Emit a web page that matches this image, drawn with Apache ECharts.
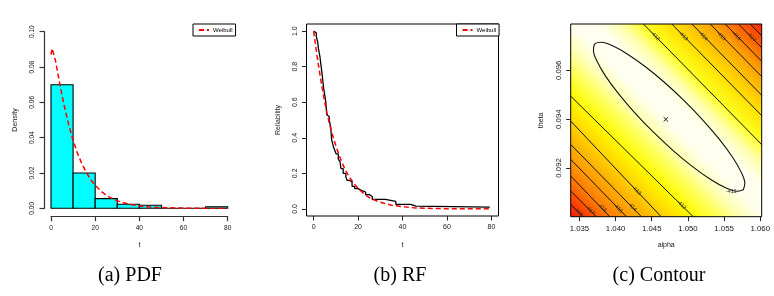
<!DOCTYPE html>
<html><head><meta charset="utf-8">
<script src="https://cdn.jsdelivr.net/npm/echarts@6/dist/echarts.min.js"></script>
<style>html,body{margin:0;padding:0;background:#fff}#c{width:774px;height:296px}</style>
</head><body><div id="c"></div>
<script>
// ---------- (a) PDF: histogram + fitted Weibull density ----------
const binEdges = [0, 10, 20, 30, 40, 50, 60, 70, 80];
const histDensity = [0.07, 0.02, 0.0055, 0.0023, 0.0017, 0, 0, 0.0009];
const pdfT = [0, 0.5, 1, 2, 3, 4, 5, 6, 8, 10, 12, 14, 16, 18, 20, 23, 26, 30, 35, 40, 45, 50, 60, 70, 80];
const pdfV = [0.087, 0.0905, 0.0896, 0.0838, 0.077, 0.0704, 0.064, 0.058, 0.0474, 0.0385, 0.0311, 0.0252, 0.0203, 0.0162, 0.013, 0.0093, 0.0066, 0.0042, 0.0024, 0.0013, 0.0007, 0.0004, 0.0001, 0.00004, 0.00001];
const xTicksA = [0, 20, 40, 60, 80];
const yTicksA = [0, 0.02, 0.04, 0.06, 0.08, 0.10];

// ---------- (b) RF: empirical reliability (step) + Weibull RF ----------
const empT = [0, 0.5, 1.2, 1.8, 2.2, 2.8, 3.4, 3.9, 4.4, 5.0, 5.5, 5.9, 6.5, 7.0, 7.7, 8.1, 8.9, 9.5, 10.1, 11.1, 11.9, 12.3, 13.3, 14.5, 15.1, 16.3, 17.3, 18.5, 20.0, 21.5, 23.4, 25.2, 26.4, 32.3, 37.0, 43.7, 46.0, 79.3];
const empR = [1, 0.99, 0.97, 0.94, 0.9, 0.86, 0.8, 0.75, 0.69, 0.64, 0.6, 0.53, 0.52, 0.5, 0.46, 0.39, 0.35, 0.33, 0.31, 0.28, 0.265, 0.227, 0.2, 0.18, 0.16, 0.15, 0.127, 0.114, 0.104, 0.095, 0.08, 0.07, 0.053, 0.042, 0.025, 0.015, 0.01, 0.01];
const rfT = [0, 1, 2, 3, 4, 5, 6, 7, 8, 10, 12, 14, 16, 18, 20, 23, 26, 30, 35, 40, 45, 50, 60, 70, 80];
const rfV = [1, 0.91, 0.823, 0.744, 0.669, 0.602, 0.541, 0.487, 0.436, 0.355, 0.284, 0.226, 0.18, 0.145, 0.115, 0.081, 0.057, 0.037, 0.021, 0.012, 0.0065, 0.0037, 0.0011, 0.0003, 0.0001];
const xTicksB = [0, 20, 40, 60, 80];
const yTicksB = [0, 0.2, 0.4, 0.6, 0.8, 1.0];

// ---------- (c) Contour of the log-likelihood in (alpha, theta) ----------
const alphaTicks = [1.035, 1.040, 1.045, 1.050, 1.055, 1.060];
const thetaTicks = [0.092, 0.094, 0.096];
const mleAlpha = [1.04695];
const mleTheta = [0.09399];
const ellipseAlpha = [1.057665, 1.056761, 1.055222, 1.053149, 1.050686, 1.047999, 1.045272, 1.042691, 1.04043, 1.038645, 1.037458, 1.036948, 1.037152, 1.038055, 1.039594, 1.041667, 1.04413, 1.046817, 1.049545, 1.052125, 1.054386, 1.056172, 1.057359, 1.057868, 1.057665];
const ellipseTheta = [0.091106, 0.091042, 0.091185, 0.091527, 0.092044, 0.092701, 0.093453, 0.094249, 0.095034, 0.095755, 0.096363, 0.096817, 0.097085, 0.097149, 0.097005, 0.096663, 0.096146, 0.09549, 0.094738, 0.093942, 0.093157, 0.092436, 0.091828, 0.091374, 0.091106];
// lower-left contour segments: [alphaStart, thetaStart, alphaEnd, thetaEnd]
const lowerLeftLines = [
  [1.0338, 0.094943, 1.050729, 0.0900],
  [1.0338, 0.093919, 1.046301, 0.0900],
  [1.0338, 0.092961, 1.043575, 0.0900],
  [1.0338, 0.092347, 1.041499, 0.0900],
  [1.0338, 0.091667, 1.039202, 0.0900],
  [1.0338, 0.091052, 1.037348, 0.0900],
  [1.0338, 0.090504, 1.035508, 0.0900]
];
// upper-right contour segments
const upperRightLines = [
  [1.043852, 0.0979, 1.0602, 0.092957],
  [1.047782, 0.0979, 1.0602, 0.094145],
  [1.050549, 0.0979, 1.0602, 0.09498],
  [1.053082, 0.0979, 1.0602, 0.095746],
  [1.055158, 0.0979, 1.0602, 0.096373],
  [1.056998, 0.0979, 1.0602, 0.09693],
  [1.058617, 0.0979, 1.0602, 0.097417]
];
const contourLevels = ['-412', '-413', '-414', '-415', '-416', '-417', '-418'];
const ellipseLevel = '-411';
const ellipseLabelPos = [1.05599, 0.091024];
const lowerLabelPos = [[1.04911, 0.090491], [1.042883, 0.091081], [1.042288, 0.090409], [1.040351, 0.090348], [1.038137, 0.090368], [1.036476, 0.090266], [1.034816, 0.090213]];
const upperLabelPos = [[1.045471, 0.097413], [1.049345, 0.097413], [1.052113, 0.097413], [1.054604, 0.097413], [1.056679, 0.097413], [1.058797, 0.097372]];

const SANS = '"Liberation Sans", Arial, Helvetica, sans-serif';
const TXT = '#161616';

const chart = echarts.init(document.getElementById('c'), null, {renderer: 'canvas'});

function axisStyle(opts) {
  return Object.assign({
    type: 'value', splitLine: {show: false},
    axisLine: {show: false, onZero: false},
    axisTick: {show: true, length: 4.5, lineStyle: {color: '#222', width: 1}},
    nameLocation: 'middle',
    nameTextStyle: {fontFamily: SANS, fontSize: 7, color: TXT}
  }, opts);
}

const heat = new echarts.graphic.LinearGradient(0, 1, 1, 0, [
  {offset: 0.00, color: '#FF1800'},
  {offset: 0.03, color: '#FF3000'},
  {offset: 0.10, color: '#FF7800'},
  {offset: 0.19, color: '#FFB000'},
  {offset: 0.27, color: '#FFE000'},
  {offset: 0.32, color: '#FFFA00'},
  {offset: 0.38, color: '#FFFF50'},
  {offset: 0.44, color: '#FFFFB0'},
  {offset: 0.50, color: '#FFFFEE'},
  {offset: 0.57, color: '#FFFFF0'},
  {offset: 0.63, color: '#FFFFB0'},
  {offset: 0.69, color: '#FFFF20'},
  {offset: 0.76, color: '#FFE000'},
  {offset: 0.87, color: '#FFA000'},
  {offset: 0.97, color: '#FF4000'},
  {offset: 1.00, color: '#FF2000'}
]);

const series = [];
// (a) histogram
series.push({
  type: 'custom', xAxisIndex: 0, yAxisIndex: 0,
  data: histDensity.map((d, i) => [binEdges[i], binEdges[i + 1], d]),
  encode: {x: [0, 1], y: 2},
  renderItem: function (params, api) {
    const p0 = api.coord([api.value(0), api.value(2)]);
    const p1 = api.coord([api.value(1), 0]);
    return {type: 'rect', shape: {x: p0[0], y: p0[1], width: p1[0] - p0[0], height: p1[1] - p0[1]},
      style: {fill: '#00FFFF', stroke: '#000', lineWidth: 1.1}};
  }, z: 2
});
series.push({
  name: 'Weibull', type: 'line', xAxisIndex: 0, yAxisIndex: 0, showSymbol: false, symbol: 'none',
  data: pdfT.map((t, i) => [t, pdfV[i]]),
  lineStyle: {color: '#FF0000', width: 1.5, type: [5, 3]}, z: 3
});
// (b)
series.push({
  name: 'Empirical', type: 'line', xAxisIndex: 1, yAxisIndex: 1, showSymbol: false, symbol: 'none', step: 'end',
  data: empT.map((t, i) => [t, empR[i]]),
  lineStyle: {color: '#000', width: 1.3}, z: 2
});
series.push({
  name: 'Weibull', type: 'line', xAxisIndex: 1, yAxisIndex: 1, showSymbol: false, symbol: 'none',
  data: rfT.map((t, i) => [t, rfV[i]]),
  lineStyle: {color: '#FF0000', width: 1.5, type: [5, 3]}, z: 3
});
// (c) contours
series.push({
  type: 'line', xAxisIndex: 2, yAxisIndex: 2, showSymbol: false, symbol: 'none', smooth: 0.35, silent: true,
  data: ellipseAlpha.map((a, i) => [a, ellipseTheta[i]]),
  lineStyle: {color: '#111', width: 1.1}
});
lowerLeftLines.concat(upperRightLines).forEach(function (s) {
  series.push({
    type: 'line', xAxisIndex: 2, yAxisIndex: 2, showSymbol: false, symbol: 'none', silent: true,
    data: [[s[0], s[1]], [s[2], s[3]]],
    lineStyle: {color: '#111', width: 1}
  });
});
const labelData = [[ellipseLabelPos[0], ellipseLabelPos[1], ellipseLevel, 0]]
  .concat(lowerLabelPos.map((p, i) => [p[0], p[1], contourLevels[i], 1]))
  .concat(upperLabelPos.map((p, i) => [p[0], p[1], contourLevels[i], 1]));
series.push({
  type: 'custom', xAxisIndex: 2, yAxisIndex: 2, silent: true,
  data: labelData,
  renderItem: function (params, api) {
    const p = api.coord([api.value(0), api.value(1)]);
    const item = labelData[params.dataIndex];
    return {type: 'text', x: p[0], y: p[1], rotation: item[3] ? -Math.PI / 4 : 0,
      style: {text: item[2], fill: '#2a2a2a', font: '5.5px ' + SANS, align: 'center', verticalAlign: 'middle'}};
  }, z: 4
});
series.push({
  type: 'custom', xAxisIndex: 2, yAxisIndex: 2, silent: true,
  data: mleAlpha.map((a, i) => [a, mleTheta[i]]),
  renderItem: function (params, api) {
    const p = api.coord([api.value(0), api.value(1)]);
    const r = 2.2;
    return {type: 'group', children: [
      {type: 'line', shape: {x1: p[0] - r, y1: p[1] - r, x2: p[0] + r, y2: p[1] + r}, style: {stroke: '#111', lineWidth: 1}},
      {type: 'line', shape: {x1: p[0] - r, y1: p[1] + r, x2: p[0] + r, y2: p[1] - r}, style: {stroke: '#111', lineWidth: 1}}
    ]};
  }, z: 5
});

const legendCommon = {
  orient: 'vertical', data: ['Weibull'], padding: [3, 3, 3, 5], itemWidth: 10, itemHeight: 7, itemGap: 0,
  borderColor: '#000', borderWidth: 1, backgroundColor: '#fff', selectedMode: false,
  itemStyle: {opacity: 0},
  textStyle: {fontFamily: SANS, fontSize: 6, color: '#000', padding: [0, 0, 0, -1]}
};

chart.setOption({
  animation: false,
  backgroundColor: '#fff',
  grid: [
    {left: 51, top: 31.7, width: 176.7, height: 176.6},
    {left: 306.5, top: 24, width: 192, height: 192, show: true, borderColor: '#000', borderWidth: 1, backgroundColor: 'transparent'},
    {left: 570.7, top: 24, width: 191, height: 192.7, show: true, borderColor: '#000', borderWidth: 1, backgroundColor: heat}
  ],
  xAxis: [
    axisStyle({gridIndex: 0, min: 0, max: 80, offset: 8.4, name: 't', nameGap: 24.5,
      axisLine: {show: true, onZero: false, lineStyle: {color: '#333', width: 1.2}},
      axisTick: {show: true, length: 4.5, customValues: xTicksA, lineStyle: {color: '#333', width: 1.2}},
      axisLabel: {customValues: xTicksA, margin: 8, fontSize: 6.6, fontFamily: SANS, color: TXT}}),
    axisStyle({gridIndex: 1, min: -3.2, max: 83.2, name: 't', nameGap: 26,
      axisTick: {show: true, length: 4.5, customValues: xTicksB, lineStyle: {color: '#222'}},
      axisLabel: {customValues: xTicksB, margin: 8, fontSize: 7, fontFamily: SANS, color: TXT}}),
    axisStyle({gridIndex: 2, min: 1.0338, max: 1.0602, name: 'alpha', nameGap: 25,
      axisTick: {show: true, length: 4.5, customValues: alphaTicks, lineStyle: {color: '#222'}},
      axisLabel: {customValues: alphaTicks, margin: 8, fontSize: 7.8, fontFamily: SANS, color: TXT, formatter: v => v.toFixed(3)}})
  ],
  yAxis: [
    axisStyle({gridIndex: 0, min: 0, max: 0.1, offset: 7, name: 'Density', nameGap: 25,
      axisLine: {show: true, onZero: false, lineStyle: {color: '#333', width: 1.2}},
      axisTick: {show: true, length: 4.5, customValues: yTicksA, lineStyle: {color: '#333', width: 1.2}},
      axisLabel: {customValues: yTicksA, rotate: 90, margin: 8.5, fontSize: 6.6, fontFamily: SANS, color: TXT, formatter: v => v.toFixed(2)}}),
    axisStyle({gridIndex: 1, min: -0.04, max: 1.04, name: 'Reliability', nameGap: 24.5,
      axisTick: {show: true, length: 4.5, customValues: yTicksB, lineStyle: {color: '#222'}},
      axisLabel: {customValues: yTicksB, rotate: 90, margin: 8, fontSize: 7, fontFamily: SANS, color: TXT, formatter: v => v.toFixed(1)}}),
    axisStyle({gridIndex: 2, min: 0.0900, max: 0.0979, name: 'theta', nameGap: 26,
      axisTick: {show: true, length: 4.5, customValues: thetaTicks, lineStyle: {color: '#222'}},
      axisLabel: {customValues: thetaTicks, rotate: 90, margin: 7.5, fontSize: 7.8, fontFamily: SANS, color: TXT, formatter: v => v.toFixed(3)}})
  ],
  legend: [
    Object.assign({left: 193, top: 24}, legendCommon),
    Object.assign({left: 456.5, top: 24}, legendCommon)
  ],
  series: series,
  graphic: [
    {type: 'text', x: 130, y: 276, style: {text: '(a) PDF', font: '20px "Liberation Serif", "Times New Roman", serif', fill: '#000', align: 'center', verticalAlign: 'middle'}},
    {type: 'text', x: 400, y: 276, style: {text: '(b) RF', font: '20px "Liberation Serif", "Times New Roman", serif', fill: '#000', align: 'center', verticalAlign: 'middle'}},
    {type: 'text', x: 659, y: 276, style: {text: '(c) Contour', font: '20px "Liberation Serif", "Times New Roman", serif', fill: '#000', align: 'center', verticalAlign: 'middle'}}
  ]
});
</script></body></html>
